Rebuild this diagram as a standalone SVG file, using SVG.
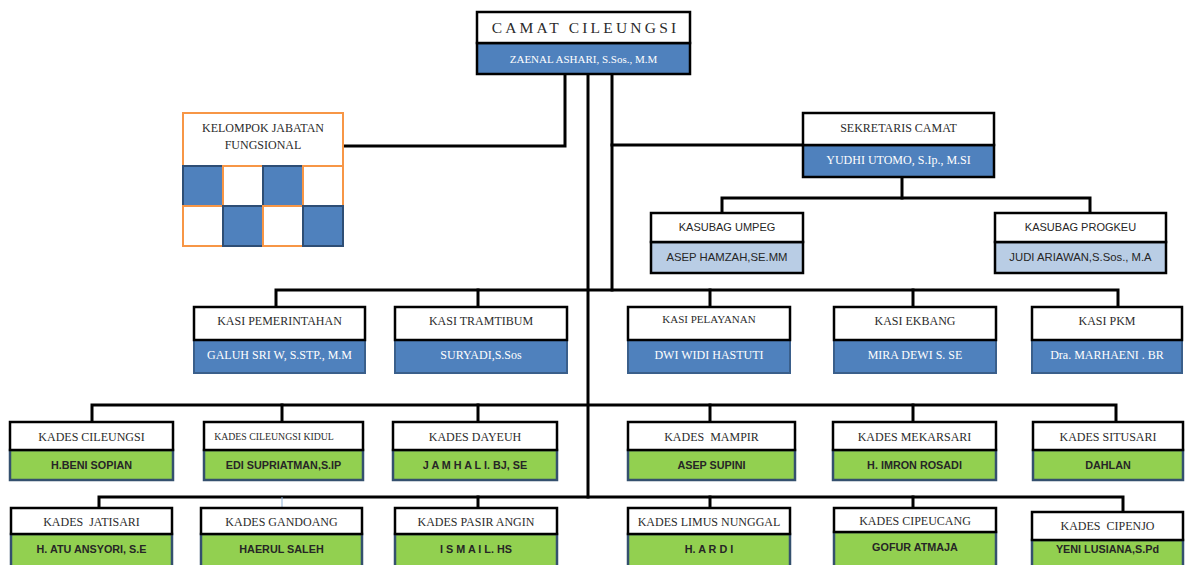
<svg xmlns="http://www.w3.org/2000/svg" width="1185" height="565" viewBox="0 0 1185 565">
<style>
.hd{fill:#fff;stroke:#000;stroke-width:2.5}
.bk{stroke:#000;stroke-width:2.5}
.bl{fill:#4F81BD}
.lb{fill:#B9CDE5}
.blb{fill:#4F81BD;stroke:#3A5F8B;stroke-width:2}
.gr{fill:#92D050;stroke:#34506E;stroke-width:2.5}
.ser{font-family:"Liberation Serif",serif;font-size:12px;fill:#2b2b2b;text-anchor:middle}
.san{font-family:"Liberation Sans",sans-serif;font-size:10.8px;font-weight:bold;fill:#262626;text-anchor:middle}
.sr{font-family:"Liberation Sans",sans-serif;font-size:11px;fill:#262626;text-anchor:middle}
.wt{fill:#fff}
.c{stroke:#000;stroke-width:3;fill:none;stroke-linecap:square}
.or{fill:#fff;stroke:#F79646;stroke-width:2}
.ob{fill:#4F81BD;stroke:#2E4E75;stroke-width:2}
</style>
<rect width="1185" height="565" fill="#fff"/>
<g id="connectors">
<path class="c" d="M565,75V146H343"/>
<path class="c" d="M588,75V497"/>
<path class="c" d="M612,75V290"/>
<path class="c" d="M612,145H803"/>
<path class="c" d="M902,177V198"/>
<path class="c" d="M722,213V198H1090V213"/>
<path class="c" d="M276,307V290H1118V307"/>
<path class="c" d="M478,290V307"/>
<path class="c" d="M710,290V307"/>
<path class="c" d="M913,290V307"/>
<path class="c" d="M92,422V405H1116V422"/>
<path class="c" d="M282,405V422"/>
<path class="c" d="M478,405V422"/>
<path class="c" d="M710,405V422"/>
<path class="c" d="M913,405V422"/>
<path class="c" d="M99,508V497H1123V512"/>
<line x1="282" y1="497" x2="282" y2="508" stroke="#8FB3D9" stroke-width="1"/>
<path class="c" d="M478,497V508"/>
<path class="c" d="M710,497V508"/>
<path class="c" d="M913,497V508"/>
</g>
<g id="camat">
<rect class="bl bk" x="477" y="43" width="213" height="31"/>
<rect class="hd" x="477" y="12" width="213" height="31"/>
<text class="ser" x="585.5" y="33" style="font-size:15.5px;letter-spacing:3.2px">CAMAT CILEUNGSI</text>
<text class="ser wt" x="583.5" y="63" style="font-size:11px">ZAENAL ASHARI, S.Sos., M.M</text>
</g>
<g id="kelompok">
<rect class="or" x="183" y="113" width="160" height="133"/>
<rect class="ob" x="183" y="166" width="40" height="40"/>
<rect class="or" x="223" y="166" width="40" height="40"/>
<rect class="ob" x="263" y="166" width="40" height="40"/>
<rect class="or" x="303" y="166" width="40" height="40"/>
<rect class="or" x="183" y="206" width="40" height="40"/>
<rect class="ob" x="223" y="206" width="40" height="40"/>
<rect class="or" x="263" y="206" width="40" height="40"/>
<rect class="ob" x="303" y="206" width="40" height="40"/>
<text class="ser" x="263" y="132">KELOMPOK JABATAN</text>
<text class="ser" x="263" y="149">FUNGSIONAL</text>
</g>
<g id="sekretaris">
<rect class="bl bk" x="803" y="145" width="191" height="32"/>
<rect class="hd" x="803" y="113" width="191" height="32"/>
<text class="ser" x="898.5" y="132">SEKRETARIS CAMAT</text>
<text class="ser wt" x="898.5" y="164">YUDHI UTOMO, S.Ip., M.SI</text>
</g>
<g id="kasubag-umpeg">
<rect class="lb bk" x="651" y="242" width="152" height="31"/>
<rect class="hd" x="651" y="213" width="152" height="29"/>
<text class="sr" x="727" y="231">KASUBAG UMPEG</text>
<text class="sr" x="727" y="261" style="font-size:11.3px">ASEP HAMZAH,SE.MM</text>
</g>
<g id="kasubag-progkeu">
<rect class="lb bk" x="995" y="242" width="171" height="31"/>
<rect class="hd" x="995" y="213" width="171" height="29"/>
<text class="sr" x="1080.5" y="231">KASUBAG PROGKEU</text>
<text class="sr" x="1080.5" y="261" style="font-size:11.3px">JUDI ARIAWAN,S.Sos., M.A</text>
</g>
<g id="kasi-pemerintahan">
<rect class="blb" x="194" y="340" width="171" height="33"/>
<rect class="hd" x="194" y="307" width="171" height="33"/>
<text class="ser" x="279.5" y="325">KASI PEMERINTAHAN</text>
<text class="ser wt" x="279.5" y="359">GALUH SRI W, S.STP., M.M</text>
</g>
<g id="kasi-tramtibum">
<rect class="blb" x="395" y="340" width="172" height="33"/>
<rect class="hd" x="395" y="307" width="172" height="33"/>
<text class="ser" x="481" y="325">KASI TRAMTIBUM</text>
<text class="ser wt" x="481" y="359">SURYADI,S.Sos</text>
</g>
<g id="kasi-pelayanan">
<rect class="blb" x="628" y="340" width="162" height="33"/>
<rect class="hd" x="628" y="307" width="162" height="33"/>
<text class="ser" x="709" y="323" style="font-size:11px">KASI PELAYANAN</text>
<text class="ser wt" x="709" y="359">DWI WIDI HASTUTI</text>
</g>
<g id="kasi-ekbang">
<rect class="blb" x="834" y="340" width="162" height="33"/>
<rect class="hd" x="834" y="307" width="162" height="33"/>
<text class="ser" x="915" y="325">KASI EKBANG</text>
<text class="ser wt" x="915" y="359">MIRA DEWI S. SE</text>
</g>
<g id="kasi-pkm">
<rect class="blb" x="1032" y="340" width="150" height="33"/>
<rect class="hd" x="1032" y="307" width="150" height="33"/>
<text class="ser" x="1107" y="325">KASI PKM</text>
<text class="ser wt" x="1107" y="359">Dra. MARHAENI . BR</text>
</g>
<g id="kades-cileungsi">
<rect class="gr" x="10" y="450" width="163" height="30"/>
<rect class="hd" x="10" y="422" width="163" height="28"/>
<text class="ser" x="91.5" y="441">KADES CILEUNGSI</text>
<text class="san" x="91.5" y="469">H.BENI SOPIAN</text>
</g>
<g id="kades-cileungsi-kidul">
<rect class="gr" x="204" y="450" width="159" height="30"/>
<rect class="hd" x="204" y="422" width="159" height="28"/>
<text class="ser" x="274" y="440" style="font-size:9.8px">KADES CILEUNGSI KIDUL</text>
<text class="san" x="283.5" y="469">EDI SUPRIATMAN,S.IP</text>
</g>
<g id="kades-dayeuh">
<rect class="gr" x="393" y="450" width="164" height="30"/>
<rect class="hd" x="393" y="422" width="164" height="28"/>
<text class="ser" x="475" y="441">KADES DAYEUH</text>
<text class="san" x="475" y="469">J A M H A L I. BJ, SE</text>
</g>
<g id="kades-mampir">
<rect class="gr" x="628" y="450" width="167" height="30"/>
<rect class="hd" x="628" y="422" width="167" height="28"/>
<text class="ser" x="711.5" y="441" xml:space="preserve">KADES  MAMPIR</text>
<text class="san" x="711.5" y="469">ASEP SUPINI</text>
</g>
<g id="kades-mekarsari">
<rect class="gr" x="833" y="450" width="163" height="30"/>
<rect class="hd" x="833" y="422" width="163" height="28"/>
<text class="ser" x="914.5" y="441">KADES MEKARSARI</text>
<text class="san" x="914.5" y="469">H. IMRON ROSADI</text>
</g>
<g id="kades-situsari">
<rect class="gr" x="1033" y="450" width="150" height="30"/>
<rect class="hd" x="1033" y="422" width="150" height="28"/>
<text class="ser" x="1108" y="441">KADES SITUSARI</text>
<text class="san" x="1108" y="469">DAHLAN</text>
</g>
<g id="kades-jatisari">
<rect class="gr" x="11" y="534" width="161" height="40"/>
<rect class="hd" x="11" y="508" width="161" height="26"/>
<text class="ser" x="91.5" y="526" xml:space="preserve">KADES  JATISARI</text>
<text class="san" x="91.5" y="553">H. ATU ANSYORI, S.E</text>
</g>
<g id="kades-gandoang">
<rect class="gr" x="201" y="534" width="161" height="40"/>
<rect class="hd" x="201" y="508" width="161" height="26"/>
<text class="ser" x="281.5" y="526">KADES GANDOANG</text>
<text class="san" x="281.5" y="553">HAERUL SALEH</text>
</g>
<g id="kades-pasir-angin">
<rect class="gr" x="395" y="534" width="162" height="40"/>
<rect class="hd" x="395" y="508" width="162" height="26"/>
<text class="ser" x="476" y="526">KADES PASIR ANGIN</text>
<text class="san" x="476" y="553">I S M A I L. HS</text>
</g>
<g id="kades-limus-nunggal">
<rect class="gr" x="628" y="534" width="162" height="40"/>
<rect class="hd" x="628" y="508" width="162" height="26"/>
<text class="ser" x="709" y="526">KADES LIMUS NUNGGAL</text>
<text class="san" x="709" y="553">H. A R D I</text>
</g>
<g id="kades-cipeucang">
<rect class="gr" x="834" y="532" width="162" height="42"/>
<rect class="hd" x="834" y="508" width="162" height="24"/>
<text class="ser" x="915" y="525">KADES CIPEUCANG</text>
<text class="san" x="915" y="551">GOFUR ATMAJA</text>
</g>
<g id="kades-cipenjo">
<rect class="gr" x="1032" y="540" width="151" height="34"/>
<rect class="hd" x="1032" y="512" width="151" height="28"/>
<text class="ser" x="1107.5" y="530" xml:space="preserve">KADES  CIPENJO</text>
<text class="san" x="1107.5" y="553">YENI LUSIANA,S.Pd</text>
</g>
</svg>
